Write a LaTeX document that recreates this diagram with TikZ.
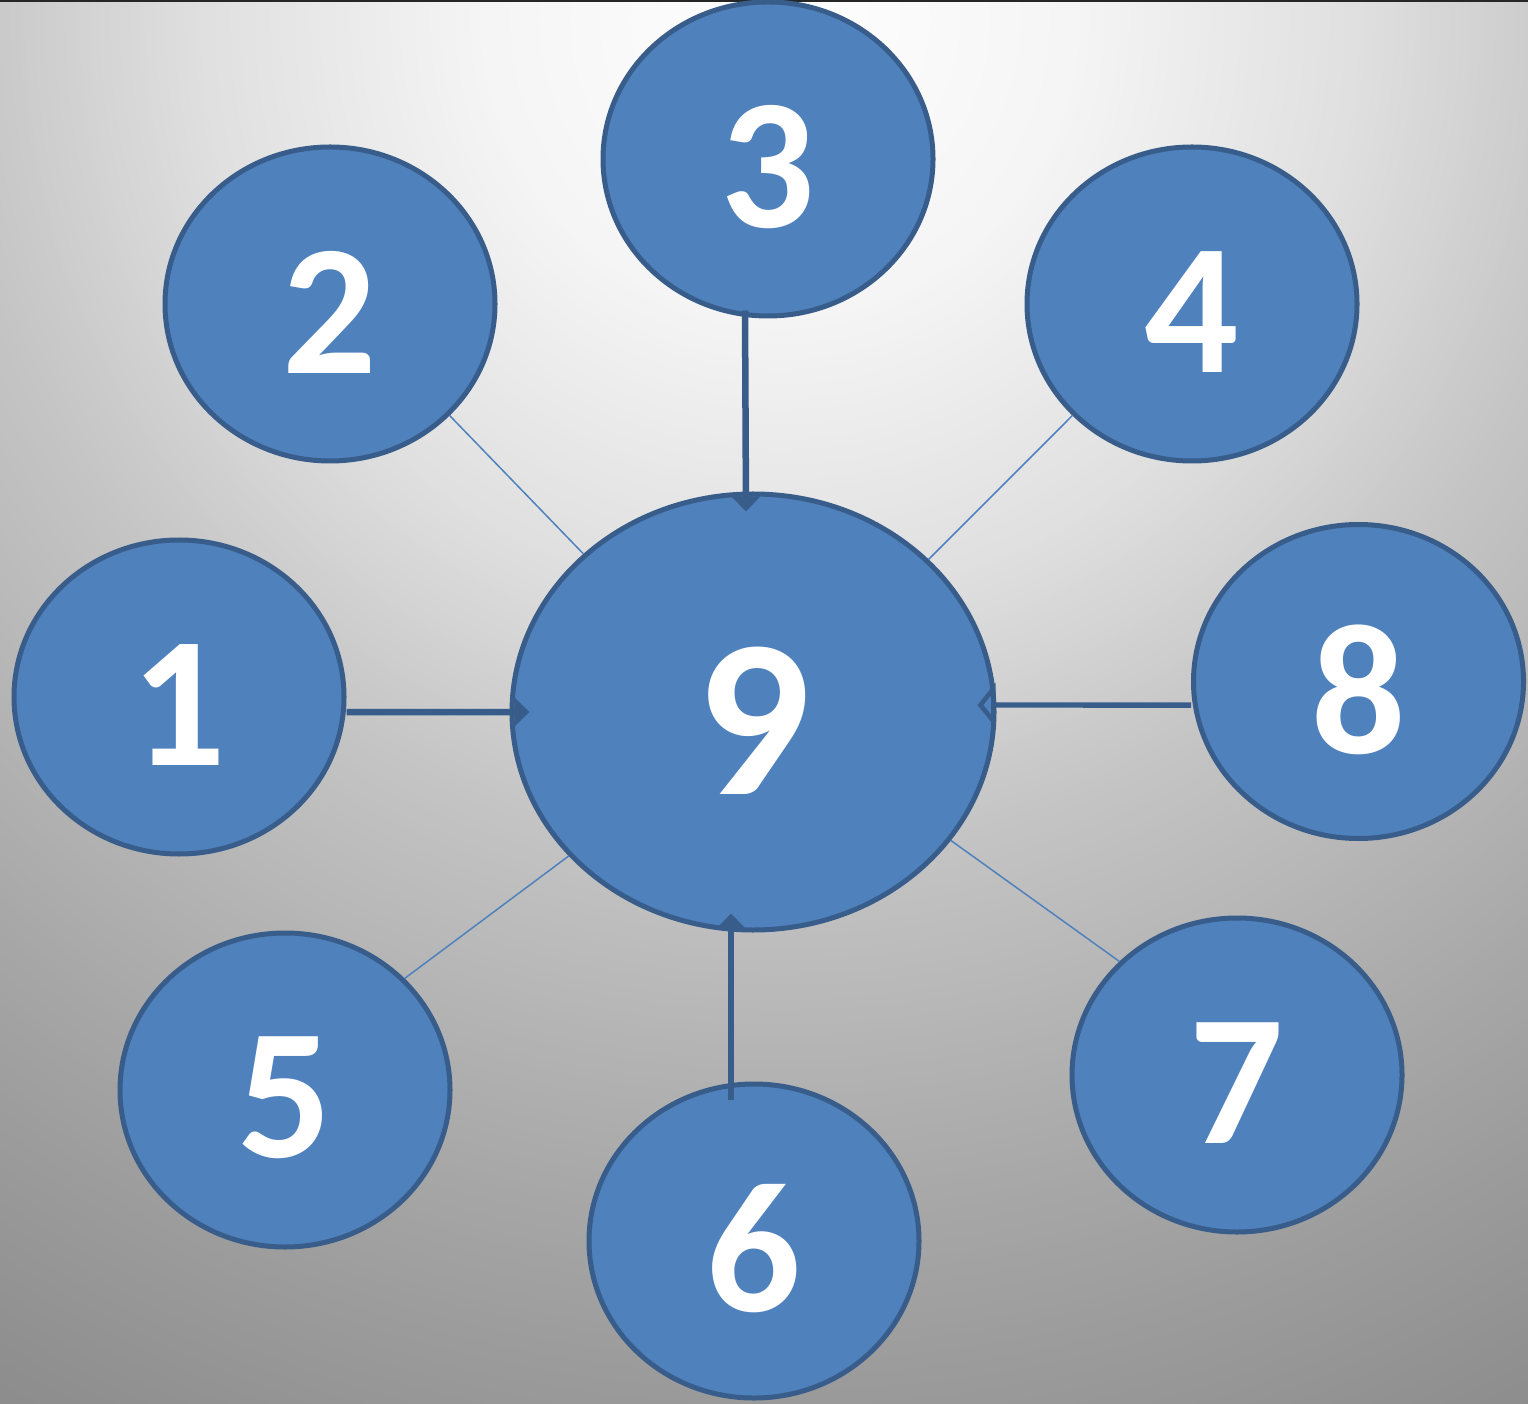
\documentclass[tikz,border=0pt]{standalone}
\usepackage{fontspec}
\setmainfont{Carlito}
\usetikzlibrary{shapes.geometric,arrows.meta}
\definecolor{fillblue}{RGB}{79,129,189}
\definecolor{edgeblue}{RGB}{56,93,138}
\definecolor{thinblue}{RGB}{79,129,189}
\tikzset{
  bubble/.style={ellipse, draw=edgeblue, fill=fillblue, line width=0.05cm, inner sep=0pt, minimum width=3.30cm, minimum height=3.14cm},
  bigbubble/.style={bubble, minimum width=4.82cm, minimum height=4.36cm},
  num/.style={text=white, font=\fontsize{53}{60}\selectfont\bfseries, inner sep=0pt},
  bignum/.style={num, font=\fontsize{64}{72}\selectfont\bfseries},
  thickarrow/.style={draw=edgeblue, line width=0.065cm, -{Triangle[length=0.15cm,width=0.28cm]}},
  openarrow/.style={draw=edgeblue, line width=0.055cm, -{Triangle[open,length=0.18cm,width=0.44cm]}},
  thinlink/.style={draw=thinblue, line width=0.015cm}
}
\begin{document}
\begin{tikzpicture}
\useasboundingbox (0,0) rectangle (15.28,-14.04);
\begin{scope}
\clip (0,0) rectangle (15.28,-14.04);
\foreach \k in {0,...,332}{
  \pgfmathsetmacro\r{16.6-\k*0.05}
  \pgfmathtruncatemacro\g{\r<3 ? 255-10*\r/3 : (\r<5.8 ? 245-21*(\r-3)/2.8 : (\r<8.2 ? 224-26*(\r-5.8)/2.4 : (\r<11.9 ? 198-30*(\r-8.2)/3.7 : (\r<13.85 ? 168-14*(\r-11.9)/1.95 : (\r<15.7 ? 154-12*(\r-13.85)/1.85 : 142-5*(\r-15.7)/0.8)))))}
  \definecolor{ringc}{RGB}{\g,\g,\g}
  \fill[ringc] (7.8,-0.2) circle (\r cm);
}
\end{scope}
\draw[line width=0.02cm, black!85] (0,-0.01) -- (15.28,-0.01);

\node[bigbubble] (n9) at (7.53,-7.12) {};
\node[bubble] (n3) at (7.68,-1.59) {};
\node[bubble] (n2) at (3.30,-3.04) {};
\node[bubble] (n4) at (11.92,-3.04) {};
\node[bubble] (n1) at (1.79,-6.97) {};
\node[bubble] (n8) at (13.585,-6.815) {};
\node[bubble] (n5) at (2.85,-10.90) {};
\node[bubble] (n6) at (7.54,-12.41) {};
\node[bubble] (n7) at (12.37,-10.75) {};

\node[bignum] (t9) at ([yshift=-0.09cm]n9.center) {9};
\node[num] (t3) at ([yshift=-0.08cm]n3.center) {3};
\node[num] (t2) at ([yshift=-0.08cm]n2.center) {2};
\node[num] (t4) at ([yshift=-0.08cm]n4.center) {4};
\node[num] (t1) at ([yshift=-0.08cm]n1.center) {1};
\node[num] (t8) at ([yshift=-0.08cm]n8.center) {8};
\node[num] (t5) at ([yshift=-0.08cm]n5.center) {5};
\node[num] (t6) at ([yshift=-0.08cm]n6.center) {6};
\node[num] (t7) at ([yshift=-0.08cm]n7.center) {7};

\draw[thinlink] (n2.-43.5) -- (n9.137.6);
\draw[thinlink] (n4.223.8) -- (n9.41.9);
\draw[thinlink] (n5.43.5) -- (n9.218.6);
\draw[thinlink] (n7.136.5) -- (n9.-33.4);

\draw[thickarrow] ([xshift=-0.23cm,yshift=0.08cm]n3.south) -- ([xshift=-0.07cm,yshift=-0.20cm]n9.north);
\draw[thickarrow] ([yshift=-0.15cm]n1.east) -- ([xshift=0.20cm]n9.west);
\draw[openarrow] ([yshift=-0.235cm]n8.west) -- ([xshift=-0.19cm,yshift=0.07cm]n9.east);
\draw[thickarrow] ([xshift=-0.23cm,yshift=-0.18cm]n6.north) -- ([xshift=-0.22cm,yshift=0.19cm]n9.south);
\end{tikzpicture}
\end{document}
